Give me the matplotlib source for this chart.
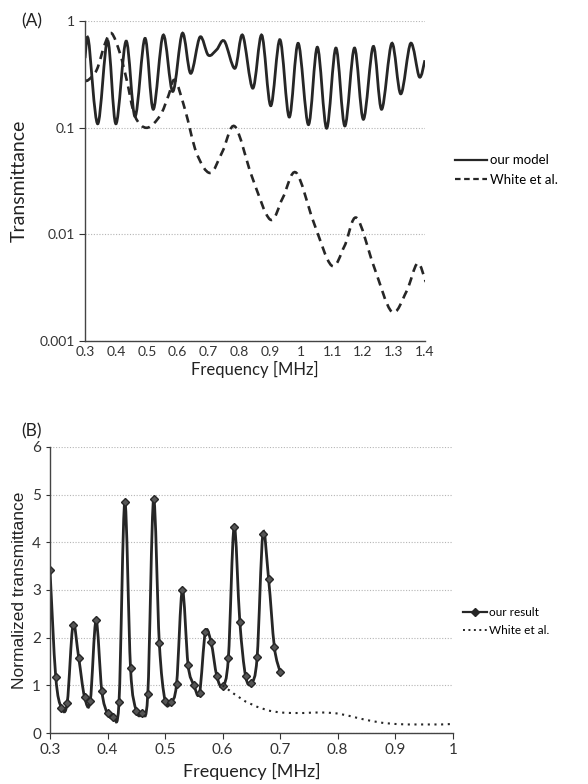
import numpy as np
import matplotlib
matplotlib.use("Agg")
import matplotlib.pyplot as plt
from matplotlib.path import Path
from matplotlib.patches import PathPatch
from matplotlib.lines import Line2D

plt.rcParams['font.family'] = ['Lato', 'DejaVu Sans']

# (A) transmittance, read at peaks / troughs
model_f = [0.300, 0.311, 0.341, 0.373, 0.400, 0.433, 0.462, 0.494, 0.521, 0.553,
           0.584, 0.615, 0.642, 0.672, 0.699, 0.726, 0.751, 0.785, 0.810, 0.843,
           0.872, 0.901, 0.931, 0.961, 0.990, 1.023, 1.052, 1.082, 1.112, 1.141,
           1.172, 1.201, 1.233, 1.260, 1.293, 1.322, 1.354, 1.382, 1.400]
model_t = [0.45, 0.67, 0.109, 0.66, 0.109, 0.65, 0.128, 0.69, 0.149, 0.74,
           0.219, 0.77, 0.324, 0.71, 0.48, 0.54, 0.65, 0.361, 0.74, 0.235,
           0.74, 0.161, 0.67, 0.126, 0.62, 0.107, 0.57, 0.099, 0.56, 0.104,
           0.56, 0.12, 0.58, 0.149, 0.62, 0.208, 0.62, 0.30, 0.43]

white_f = [0.300, 0.310, 0.338, 0.365, 0.386, 0.413, 0.435, 0.462, 0.500, 0.543,
           0.570, 0.591, 0.624, 0.661, 0.705, 0.745, 0.785, 0.840, 0.899, 0.940,
           0.983, 1.040, 1.098, 1.140, 1.179, 1.235, 1.293, 1.340, 1.376, 1.403]
white_t = [0.28, 0.28, 0.35, 0.62, 0.77, 0.50, 0.28, 0.128, 0.10, 0.13,
           0.20, 0.28, 0.147, 0.058, 0.0377, 0.06, 0.103, 0.035, 0.0138, 0.022,
           0.038, 0.013, 0.0051, 0.0078, 0.0143, 0.005, 0.00188, 0.0029, 0.00536, 0.00358]

# (B) normalized transmittance
res_f = [0.30, 0.31, 0.32, 0.33, 0.34, 0.35, 0.36, 0.37, 0.38, 0.39, 0.40,
         0.41, 0.42, 0.43, 0.44, 0.45, 0.46, 0.47, 0.48, 0.49, 0.50,
         0.51, 0.52, 0.53, 0.54, 0.55, 0.56, 0.57, 0.58, 0.59, 0.60,
         0.61, 0.62, 0.63, 0.64, 0.65, 0.66, 0.67, 0.68, 0.69, 0.70]
res_t = [3.42, 1.18, 0.53, 0.64, 2.26, 1.57, 0.76, 0.67, 2.36, 0.89, 0.41,
         0.34, 0.66, 4.85, 1.36, 0.47, 0.41, 0.82, 4.90, 1.89, 0.68,
         0.65, 1.03, 3.00, 1.43, 1.01, 0.85, 2.11, 1.90, 1.19, 0.98,
         1.57, 4.33, 2.32, 1.19, 1.05, 1.59, 4.17, 3.22, 1.80, 1.28]

wb_f = [0.60, 0.62, 0.64, 0.66, 0.68, 0.70, 0.72, 0.74, 0.76, 0.78, 0.80,
        0.82, 0.84, 0.86, 0.88, 0.90, 0.92, 0.94, 0.96, 0.98, 1.00]
wb_t = [1.00, 0.82, 0.66, 0.55, 0.47, 0.43, 0.42, 0.42, 0.43, 0.43, 0.41,
        0.36, 0.30, 0.25, 0.21, 0.19, 0.18, 0.18, 0.18, 0.18, 0.19]

a_ticks = [0.3, 0.4, 0.5, 0.6, 0.7, 0.8, 0.9, 1.0, 1.1, 1.2, 1.3, 1.4]
a_labels = ['0.3', '0.4', '0.5', '0.6', '0.7', '0.8', '0.9', '1', '1.1', '1.2', '1.3', '1.4']
b_ticks = [0.3, 0.4, 0.5, 0.6, 0.7, 0.8, 0.9, 1.0]
b_labels = ['0.3', '0.4', '0.5', '0.6', '0.7', '0.8', '0.9', '1']

ink = '#262626'


def smooth(x, y, logy=False):
    # excel-like smoothed line: catmull-rom segments as bezier curves
    x = np.asarray(x, float)
    y = np.log10(y) if logy else np.asarray(y, float)
    n = len(x)
    verts = [(x[0], y[0])]
    codes = [Path.MOVETO]
    for i in range(n - 1):
        a = max(i - 1, 0)
        d = min(i + 2, n - 1)
        c1 = (x[i] + (x[i + 1] - x[a]) / 6, y[i] + (y[i + 1] - y[a]) / 6)
        c2 = (x[i + 1] - (x[d] - x[i]) / 6, y[i + 1] - (y[d] - y[i]) / 6)
        verts += [c1, c2, (x[i + 1], y[i + 1])]
        codes += [Path.CURVE4] * 3
    verts = np.array(verts)
    if logy:
        verts[:, 1] = 10 ** verts[:, 1]
    return Path(verts, codes)


def style(ax, size):
    for s in ['top', 'right']:
        ax.spines[s].set_visible(False)
    for s in ['left', 'bottom']:
        ax.spines[s].set_color('#444444')
        ax.spines[s].set_linewidth(1.0)
    ax.grid(axis='y', color='#b5b5b5', linestyle=(0, (1, 1.5)), linewidth=0.8)
    ax.set_axisbelow(True)
    ax.tick_params(axis='both', labelsize=size, colors='#333333', direction='out', length=4)
    ax.tick_params(axis='y', which='minor', length=0)


fig = plt.figure(figsize=(5.88, 7.84), dpi=100)

# ---- (A)
ax1 = fig.add_axes([0.1446, 0.565, 0.578, 0.408])
ax1.set_yscale('log')
ax1.set_xlim(0.3, 1.4)
ax1.set_ylim(0.001, 1)
ax1.add_patch(PathPatch(smooth(model_f, model_t, True), fill=False, color=ink,
                        lw=2.0, transform=ax1.transData))
ax1.add_patch(PathPatch(smooth(white_f, white_t, True), fill=False, color=ink,
                        lw=1.9, linestyle=(0, (3.2, 2.2)), transform=ax1.transData))
ax1.set_xticks(a_ticks)
ax1.set_xticklabels(a_labels)
ax1.set_yticks([0.001, 0.01, 0.1, 1])
ax1.set_yticklabels(['0.001', '0.01', '0.1', '1'])
style(ax1, 10)
ax1.tick_params(axis='x', length=0)
ax1.set_xlabel('Frequency [MHz]', fontsize=12, color='#222222', labelpad=2)
ax1.set_ylabel('Transmittance', fontsize=14, color='#222222', labelpad=8)
fig.text(0.036, 0.966, '(A)', fontsize=12.5, color='#222222')
h1 = [Line2D([], [], color=ink, lw=1.6),
      Line2D([], [], color=ink, lw=1.6, linestyle=(0, (2.5, 1.6)))]
ax1.legend(h1, ['our model', 'White et al.'], loc='center left',
           bbox_to_anchor=(1.055, 0.535), frameon=False, fontsize=9.5,
           handlelength=2.4, handletextpad=0.2, labelspacing=0.55)

# ---- (B)
ax2 = fig.add_axes([0.085, 0.065, 0.685, 0.365])
ax2.set_xlim(0.3, 1.0)
ax2.set_ylim(0, 6)
ax2.add_patch(PathPatch(smooth(res_f, res_t), fill=False, color=ink, lw=2.0,
                        transform=ax2.transData))
ax2.plot(res_f, res_t, linestyle='none', marker='D', markersize=4.2,
         color=ink, markerfacecolor='#555555', markeredgecolor=ink)
ax2.plot(wb_f, wb_t, color=ink, lw=1.5, linestyle=(0, (1, 2.2)))
ax2.set_xticks(b_ticks)
ax2.set_xticklabels(b_labels)
ax2.set_yticks([0, 1, 2, 3, 4, 5, 6])
style(ax2, 11)
ax2.tick_params(axis='y', length=3)
ax2.set_xlabel('Frequency [MHz]', fontsize=13, color='#222222', labelpad=4)
ax2.set_ylabel('Normalized transmittance', fontsize=12.5, color='#222222',
               labelpad=4, family=['Liberation Sans', 'DejaVu Sans'])
fig.text(0.036, 0.443, '(B)', fontsize=12.5, color='#222222')
h2 = [Line2D([], [], color=ink, lw=1.6, marker='D', markersize=4),
      Line2D([], [], color=ink, lw=1.4, linestyle=(0, (1, 1.8)))]
ax2.legend(h2, ['our result', 'White et al.'], loc='center left',
           bbox_to_anchor=(1.0, 0.39), frameon=False, fontsize=8.5,
           handlelength=2.0, handletextpad=0.2, labelspacing=0.55)

fig.savefig('out.png', dpi=100)
